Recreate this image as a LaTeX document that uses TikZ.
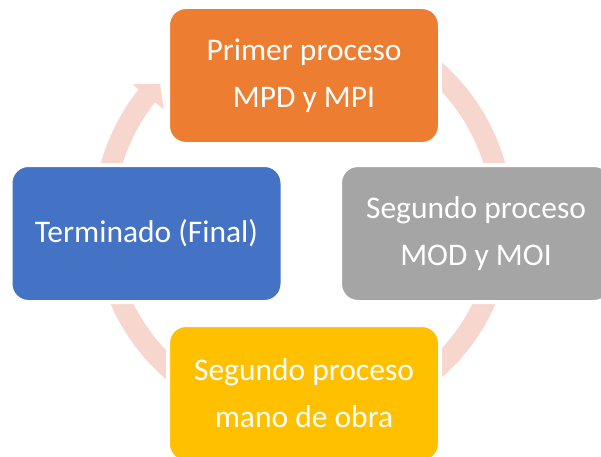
\documentclass[tikz,border=0pt]{standalone}
\usepackage{fontspec}
\setmainfont{Carlito}
\definecolor{naranja}{HTML}{ED7D31}
\definecolor{gris}{HTML}{A5A5A5}
\definecolor{amarillo}{HTML}{FFC000}
\definecolor{azul}{HTML}{4472C4}
\definecolor{rosa}{RGB}{247,215,205}
\begin{document}
\begin{tikzpicture}[x=1pt,y=1pt,
  caja/.style={rounded corners=18pt,draw=white,line width=4pt,minimum width=272pt,minimum height=137pt,inner sep=0pt,text=white,align=center,font=\fontsize{31.5}{47}\selectfont},
  anillo/.style={draw=rosa,line width=21pt}]
\clip (0,0) rectangle (601,456);
% anillo del ciclo
\begin{scope}[shift={(303,236)}]
\draw[anillo] (70:199.5) arc[start angle=70,end angle=10,radius=199.5];
\draw[anillo] (-10:199.5) arc[start angle=-10,end angle=-70,radius=199.5];
\draw[anillo] (250:199.5) arc[start angle=250,end angle=190,radius=199.5];
\draw[anillo] (170:199.5) arc[start angle=170,end angle=141.3,radius=199.5];
\fill[rosa] (141.5:218) -- (136.4:197.5) -- (141.5:178) -- cycle;
\end{scope}
\node[caja,fill=naranja] (primero) at (304,380.5) {Primer proceso\\MPD y MPI};
\node[caja,fill=gris] (segundo) at (476,222.5) {Segundo proceso\\MOD y MOI};
\node[caja,fill=amarillo] (tercero) at (304,62.5) {Segundo proceso\\mano de obra};
\node[caja,fill=azul] (final) at (146.5,222.5) {Terminado (Final)};
\end{tikzpicture}
\end{document}
